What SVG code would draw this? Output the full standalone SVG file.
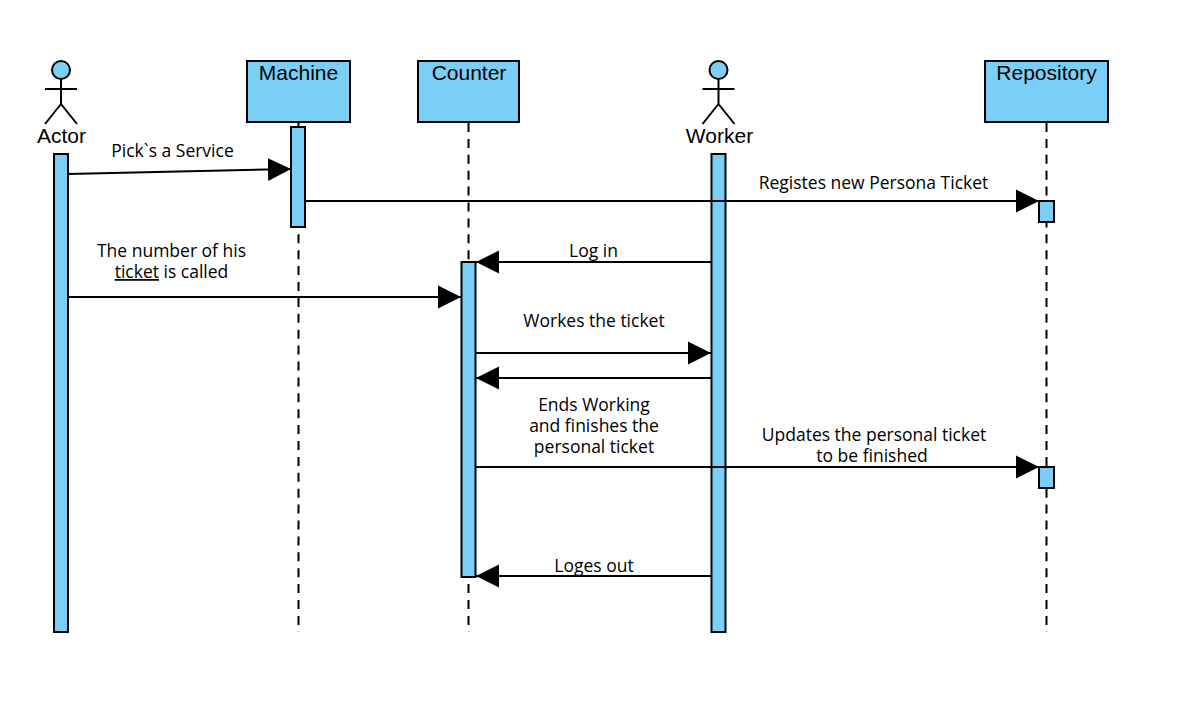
<svg xmlns="http://www.w3.org/2000/svg" width="1177" height="715" viewBox="0 0 1177 715">
<defs><marker id="a" markerUnits="userSpaceOnUse" markerWidth="24" markerHeight="26" refX="23" refY="13" orient="auto"><path d="M0 1.500L23 13L0 24.500Z" fill="#000"/></marker></defs>
<style>
.b{fill:#7bcff6;stroke:#000;stroke-width:2}
.l{stroke:#000;stroke-width:2;fill:none}
.d{stroke:#000;stroke-width:2;fill:none;stroke-dasharray:9 6.900}
.m{stroke:#000;stroke-width:2;fill:none;marker-end:url(#a)}
.t{font:21px "Liberation Sans",Arial,sans-serif;fill:#000;text-anchor:middle}
.s{font:17.500px "Open Sans",sans-serif;fill:#000;text-anchor:middle}
</style>
<rect width="1177" height="715" fill="#fff"/>
<g id="actor"><circle class="b" cx="61" cy="70" r="9"/><path class="l" d="M61 79V104M45 89H77M61 104L45 124M61 104L77 124"/><text class="t" x="61.500" y="143">Actor</text><rect class="b" x="54" y="154" width="14" height="478"/></g>
<g id="machine"><path class="d" d="M298.500 123V632"/><rect class="b" x="247" y="61" width="103" height="61"/><text class="t" x="298.500" y="80">Machine</text><rect class="b" x="291" y="127" width="14" height="100"/></g>
<g id="counter"><path class="d" d="M468.500 123V632"/><rect class="b" x="418" y="61" width="101" height="61"/><text class="t" x="469" y="80">Counter</text><rect class="b" x="461.500" y="262" width="14" height="315"/></g>
<g id="worker"><circle class="b" cx="718.500" cy="70" r="9"/><path class="l" d="M718.500 79V104M702.500 89H734.500M718.500 104L702.500 124M718.500 104L734.500 124"/><text class="t" x="719.500" y="143">Worker</text><rect class="b" x="711.500" y="154" width="14" height="478"/></g>
<g id="repository"><path class="d" d="M1046.500 123V632"/><rect class="b" x="985" y="61" width="123" height="61"/><text class="t" x="1046.500" y="80">Repository</text><rect class="b" x="1039" y="201" width="15" height="21"/><rect class="b" x="1039" y="467" width="15" height="21"/></g>
<g id="connectors">
<path class="m" d="M68 174L291 169"/>
<path class="m" d="M305 201L1039 201"/>
<path class="m" d="M711 262L476 262"/>
<path class="m" d="M68 297L461 297"/>
<path class="m" d="M476 353L711 353"/>
<path class="m" d="M711 378L476 378"/>
<path class="m" d="M476 467L1039 467"/>
<path class="m" d="M711 576L476 576"/>
</g>
<g id="labels">
<text class="s" x="172.500" y="157">Pick`s a Service</text>
<text class="s" x="873.500" y="189">Registes new Persona Ticket</text>
<text class="s" x="593.500" y="257">Log in</text>
<text class="s" x="171.500" y="257">The number of his</text>
<text class="s" x="171.500" y="278"><tspan text-decoration="underline">ticket</tspan> is called</text>
<text class="s" x="594" y="326.500">Workes the ticket</text>
<text class="s" x="594" y="411">Ends Working</text>
<text class="s" x="594" y="432">and finishes the</text>
<text class="s" x="594" y="453">personal ticket</text>
<text class="s" x="874" y="441">Updates the personal ticket</text>
<text class="s" x="872" y="462">to be finished</text>
<text class="s" x="594" y="572">Loges out</text>
</g>
</svg>
